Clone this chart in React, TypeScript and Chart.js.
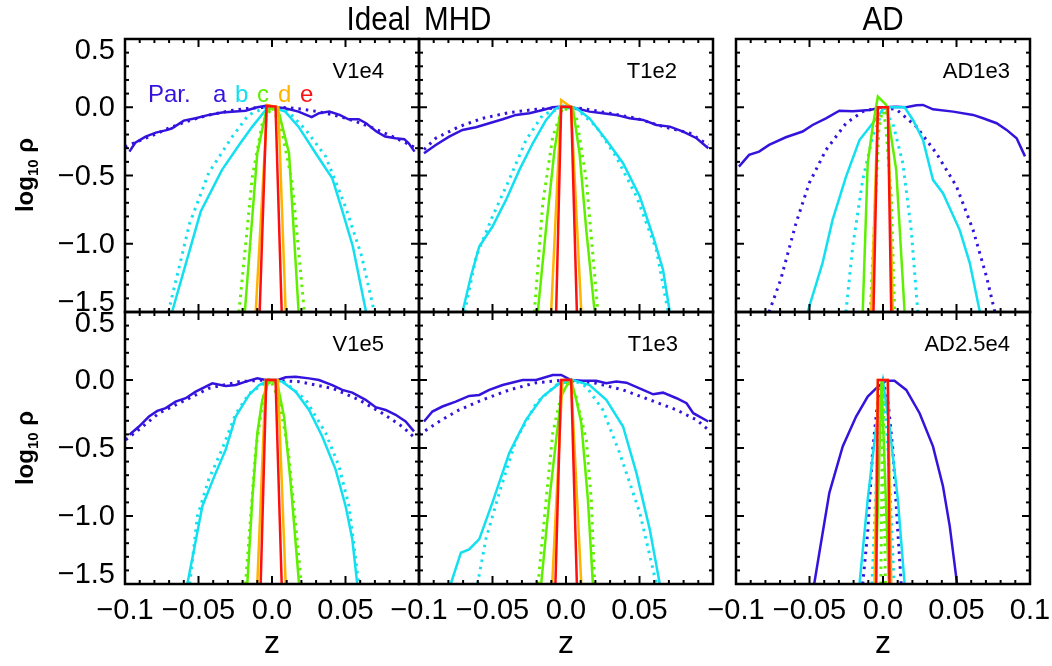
import React, { useEffect, useRef } from 'react';
import { Chart, registerables } from 'chart.js';

Chart.register(...registerables);

// ---------- Axis ticks ----------
const X_TICKS = [-0.1, -0.05, 0, 0.05, 0.1];
const X_TICK_LABELS = ['\u22120.1', '\u22120.05', '0.0', '0.05', '0.1'];
const Y_TICKS = [-1.5, -1.0, -0.5, 0.0, 0.5];
const Y_TICK_LABELS = ['\u22121.5', '\u22121.0', '\u22120.5', '0.0', '0.5'];
const LEGEND_LABELS = ['Par.', 'a', 'b', 'c', 'd', 'e'];

// ---------- V1e4 ----------
const V1E4_A = [[-0.097,-0.325],[-0.093,-0.26],[-0.086,-0.215],[-0.079,-0.186],[-0.071,-0.166],[-0.068,-0.154],[-0.06,-0.098],[-0.052,-0.081],[-0.043,-0.056],[-0.034,-0.039],[-0.025,-0.032],[-0.018,-0.025],[-0.01,0.0],[-0.004,0.01],[0.003,0.0],[0.009,-0.007],[0.018,-0.032],[0.027,-0.073],[0.032,-0.044],[0.039,-0.032],[0.046,-0.056],[0.052,-0.088],[0.059,-0.088],[0.064,-0.117],[0.071,-0.178],[0.077,-0.215],[0.084,-0.227],[0.09,-0.234],[0.093,-0.264],[0.097,-0.325]];
const V1E4_A_FIT = [[-0.1,-0.29],[-0.09,-0.245],[-0.08,-0.2],[-0.07,-0.152],[-0.06,-0.112],[-0.05,-0.078],[-0.04,-0.05],[-0.03,-0.028],[-0.02,-0.012],[-0.01,-0.003],[0.0,0.0],[0.01,-0.003],[0.02,-0.013],[0.03,-0.03],[0.04,-0.052],[0.05,-0.08],[0.06,-0.116],[0.07,-0.158],[0.08,-0.205],[0.09,-0.255],[0.1,-0.31]];
const V1E4_B = [[-0.068,-1.5],[-0.0485,-0.764],[-0.034,-0.459],[-0.0224,-0.276],[-0.0134,-0.142],[-0.0043,-0.02],[0.0,0.0],[0.009,-0.032],[0.018,-0.142],[0.0297,-0.337],[0.041,-0.52],[0.048,-0.764],[0.055,-1.02],[0.064,-1.5]];
const V1E4_B_FIT = [[-0.0705,-1.5],[-0.056,-0.85],[-0.043,-0.48],[-0.027,-0.215],[-0.016,-0.056],[-0.004,0.0],[0.009,-0.01],[0.023,-0.166],[0.0365,-0.36],[0.05,-0.73],[0.061,-1.09],[0.0696,-1.5]];
const V1E4_C = [[-0.0185,-1.5],[-0.01,-0.337],[-0.0043,-0.044],[0.0,0.0],[0.0048,-0.044],[0.0116,-0.337],[0.0181,-1.5]];
const V1E4_C_FIT = [[-0.0225,-1.5],[-0.0134,-0.51],[-0.0066,-0.117],[0.0,0.0],[0.006,-0.14],[0.0138,-0.556],[0.022,-1.5]];
const V1E4_D = [[-0.0111,-1.5],[-0.0032,0.017],[0.0043,0.0],[0.0093,-1.5]];
const V1E4_E = [[-0.0084,-1.5],[-0.0037,0.01],[0.0024,0.005],[0.0066,-1.5]];

// ---------- T1e2 ----------
const T1E2_A = [[-0.0966,-0.337],[-0.0886,-0.276],[-0.0795,-0.215],[-0.0704,-0.166],[-0.0613,-0.146],[-0.0522,-0.117],[-0.0431,-0.088],[-0.034,-0.056],[-0.0249,-0.044],[-0.0158,-0.02],[-0.009,0.0],[-0.002,0.005],[0.007,-0.007],[0.016,-0.032],[0.0251,-0.044],[0.034,-0.056],[0.0433,-0.081],[0.0524,-0.093],[0.0615,-0.13],[0.0706,-0.142],[0.0797,-0.178],[0.0888,-0.227],[0.0968,-0.3]];
const T1E2_A_FIT = [[-0.0966,-0.31],[-0.0886,-0.227],[-0.0727,-0.142],[-0.0568,-0.081],[-0.0386,-0.039],[-0.0203,-0.015],[0.0,0.0],[0.0114,-0.01],[0.0297,-0.044],[0.0479,-0.081],[0.066,-0.142],[0.0843,-0.19],[0.0968,-0.276]];
const T1E2_B = [[-0.0704,-1.5],[-0.0647,-1.24],[-0.059,-1.02],[-0.05,-0.874],[-0.0408,-0.679],[-0.0317,-0.459],[-0.0226,-0.264],[-0.0135,-0.093],[-0.0067,-0.007],[-0.002,0.01],[0.007,-0.007],[0.016,-0.081],[0.0274,-0.24],[0.0388,-0.41],[0.0502,-0.654],[0.0593,-0.947],[0.066,-1.19],[0.0706,-1.5]];
const T1E2_B_FIT = [[-0.069,-1.5],[-0.061,-1.09],[-0.05,-0.8],[-0.0386,-0.53],[-0.0272,-0.24],[-0.0158,-0.056],[-0.002,0.0],[0.007,-0.01],[0.0206,-0.142],[0.034,-0.36],[0.048,-0.654],[0.0615,-1.045],[0.0695,-1.5]];
const T1E2_C = [[-0.0192,-1.5],[-0.0135,-0.88],[-0.0078,-0.313],[-0.0033,0.0],[0.0046,0.0],[0.0092,-0.337],[0.0138,-0.9],[0.0195,-1.5]];
const T1E2_C_FIT = [[-0.0215,-1.5],[-0.0158,-0.703],[-0.009,-0.215],[-0.002,0.0],[0.007,-0.069],[0.0138,-0.53],[0.0217,-1.5]];
const T1E2_D = [[-0.0101,-1.5],[-0.0033,0.053],[0.0035,0.0],[0.0104,-1.5]];
const T1E2_E = [[-0.0067,-1.5],[-0.0033,0.004],[0.0035,0.004],[0.0074,-1.5]];

// ---------- AD1e3 ----------
const AD1E3_A = [[-0.098,-0.435],[-0.0911,-0.349],[-0.0843,-0.325],[-0.0775,-0.276],[-0.0661,-0.22],[-0.0547,-0.178],[-0.0479,-0.13],[-0.0388,-0.081],[-0.0297,-0.025],[-0.0206,-0.029],[-0.0092,-0.02],[0.0,0.0],[0.009,0.004],[0.0158,0.0],[0.0227,0.015],[0.0272,0.017],[0.034,-0.015],[0.0477,-0.032],[0.0613,-0.056],[0.0681,-0.081],[0.0773,-0.117],[0.0841,-0.166],[0.0909,-0.227],[0.0966,-0.36]];
const AD1E3_A_FIT = [[-0.0775,-1.5],[-0.0695,-1.26],[-0.0592,-0.85],[-0.0502,-0.556],[-0.0388,-0.313],[-0.0251,-0.117],[-0.0138,-0.032],[-0.002,0.0],[0.009,-0.015],[0.0227,-0.142],[0.0363,-0.337],[0.05,-0.58],[0.0613,-0.9],[0.0704,-1.24],[0.0761,-1.5]];
const AD1E3_B = [[-0.0513,-1.5],[-0.0411,-1.14],[-0.0343,-0.825],[-0.0252,-0.51],[-0.016,-0.24],[-0.007,-0.117],[0.0,-0.015],[0.0022,0.0],[0.0147,0.0],[0.0204,-0.093],[0.0272,-0.24],[0.034,-0.532],[0.0408,-0.63],[0.0522,-0.9],[0.059,-1.14],[0.0659,-1.5]];
const AD1E3_B_FIT = [[-0.0252,-1.5],[-0.0206,-1.02],[-0.0138,-0.532],[-0.007,-0.215],[0.0,-0.015],[0.0067,-0.117],[0.0135,-0.41],[0.0192,-0.9],[0.0237,-1.5]];
const AD1E3_C = [[-0.0138,-1.5],[-0.0104,-0.41],[-0.007,-0.142],[-0.0035,0.078],[0.0022,0.017],[0.009,-0.459],[0.0147,-1.5]];
const AD1E3_C_FIT = [[-0.0087,-1.5],[-0.005,-0.654],[-0.0027,-0.15],[0.0,0.0],[0.002,-0.15],[0.0056,-0.654],[0.0079,-1.5]];
const AD1E3_D = [[-0.008,-1.5],[-0.0035,0.0],[0.0033,0.0],[0.0067,-1.5]];
const AD1E3_E = [[-0.0065,-1.5],[-0.0035,0.0],[0.0033,0.0],[0.0056,-1.5]];

// ---------- V1e5 ----------
const V1E5_A = [[-0.097,-0.403],[-0.0905,-0.342],[-0.0837,-0.269],[-0.078,-0.227],[-0.0723,-0.207],[-0.0656,-0.159],[-0.0587,-0.134],[-0.0519,-0.086],[-0.0406,-0.024],[-0.0315,-0.044],[-0.0247,-0.037],[-0.0179,-0.012],[-0.01,0.012],[-0.0043,0.0],[0.004,0.0],[0.0093,0.02],[0.0161,0.024],[0.0252,0.012],[0.032,0.0],[0.041,-0.037],[0.0478,-0.073],[0.0546,-0.093],[0.0637,-0.146],[0.0705,-0.2],[0.0773,-0.22],[0.0841,-0.256],[0.0909,-0.305],[0.0966,-0.378]];
const V1E5_A_FIT = [[-0.0995,-0.44],[-0.0905,-0.364],[-0.0769,-0.244],[-0.061,-0.159],[-0.0429,-0.061],[-0.0224,-0.012],[-0.0043,0.0],[0.0184,-0.012],[0.041,-0.061],[0.0592,-0.146],[0.075,-0.244],[0.0886,-0.342],[0.0966,-0.42]];
const V1E5_B = [[-0.0576,-1.5],[-0.053,-1.245],[-0.0474,-0.928],[-0.0383,-0.683],[-0.0315,-0.512],[-0.0247,-0.269],[-0.0156,-0.11],[-0.0088,-0.037],[-0.0016,0.0],[0.007,-0.012],[0.0161,-0.086],[0.0252,-0.22],[0.0342,-0.415],[0.0433,-0.659],[0.0501,-0.928],[0.0546,-1.17],[0.058,-1.5]];
const V1E5_B_FIT = [[-0.056,-1.5],[-0.0507,-1.0],[-0.043,-0.73],[-0.034,-0.51],[-0.0247,-0.25],[-0.0156,-0.1],[-0.0016,0.0],[0.009,-0.02],[0.023,-0.146],[0.0365,-0.39],[0.0456,-0.634],[0.0524,-0.928],[0.059,-1.5]];
const V1E5_C = [[-0.0168,-1.5],[-0.0134,-0.878],[-0.01,-0.39],[-0.0066,-0.146],[-0.002,0.0],[0.0036,-0.024],[0.0082,-0.269],[0.0127,-0.756],[0.0184,-1.5]];
const V1E5_C_FIT = [[-0.018,-1.5],[-0.0145,-1.0],[-0.0111,-0.512],[-0.0055,-0.1],[-0.001,0.0],[0.0048,-0.146],[0.011,-0.512],[0.0155,-1.0],[0.02,-1.5]];
const V1E5_D = [[-0.01,-1.5],[-0.0043,0.0],[0.004,0.0],[0.0093,-1.5]];
const V1E5_E = [[-0.0077,-1.5],[-0.0039,0.0],[0.0024,0.0],[0.0066,-1.5]];

// ---------- T1e3 ----------
const T1E3_A = [[-0.0966,-0.305],[-0.0909,-0.232],[-0.0841,-0.195],[-0.075,-0.159],[-0.0659,-0.117],[-0.059,-0.11],[-0.0522,-0.073],[-0.0431,-0.037],[-0.0295,0.0],[-0.0203,0.0],[-0.009,0.037],[-0.0033,0.037],[0.0035,0.0],[0.0115,-0.005],[0.0206,-0.005],[0.0274,-0.024],[0.0342,-0.012],[0.0411,-0.02],[0.0524,-0.073],[0.0593,-0.105],[0.066,-0.093],[0.0752,-0.134],[0.082,-0.171],[0.0866,-0.244],[0.0968,-0.305]];
const T1E3_A_FIT = [[-0.1,-0.403],[-0.0932,-0.354],[-0.0841,-0.29],[-0.0727,-0.22],[-0.0568,-0.146],[-0.0386,-0.073],[-0.0203,-0.02],[0.0,0.0],[0.0206,-0.024],[0.0388,-0.073],[0.057,-0.146],[0.0752,-0.22],[0.0888,-0.293],[0.0968,-0.366]];
const T1E3_B = [[-0.0784,-1.5],[-0.0715,-1.27],[-0.0659,-1.245],[-0.059,-1.17],[-0.05,-0.9],[-0.0386,-0.537],[-0.0272,-0.293],[-0.0158,-0.122],[-0.0044,-0.024],[0.0048,0.0],[0.016,-0.037],[0.0274,-0.146],[0.0388,-0.342],[0.0479,-0.683],[0.057,-1.1],[0.0638,-1.5]];
const T1E3_B_FIT = [[-0.0602,-1.5],[-0.0545,-1.17],[-0.0454,-0.83],[-0.034,-0.44],[-0.0203,-0.171],[-0.0067,-0.037],[0.0048,0.0],[0.0138,-0.049],[0.0251,-0.22],[0.0365,-0.537],[0.0502,-0.976],[0.0615,-1.5]];
const T1E3_C = [[-0.0169,-1.5],[-0.0113,-0.878],[-0.0067,-0.44],[-0.0033,-0.122],[0.0,-0.05],[0.0035,0.0],[0.007,-0.146],[0.0104,-0.317],[0.0149,-0.878],[0.0183,-1.5]];
const T1E3_C_FIT = [[-0.019,-1.5],[-0.0135,-0.88],[-0.009,-0.39],[-0.0024,-0.073],[0.0012,0.0],[0.0068,-0.12],[0.0138,-0.44],[0.0172,-0.878],[0.0195,-1.5]];
const T1E3_D = [[-0.0094,-1.5],[-0.0024,0.0],[0.0035,0.0],[0.0104,-1.5]];
const T1E3_E = [[-0.0072,-1.5],[-0.0033,0.0],[0.0035,0.0],[0.0074,-1.5]];

// ---------- AD2.5e4 ----------
const AD25E4_A = [[-0.0468,-1.5],[-0.0433,-1.27],[-0.0365,-0.83],[-0.0274,-0.488],[-0.0183,-0.269],[-0.0104,-0.122],[-0.0035,-0.049],[0.0022,-0.005],[0.0078,-0.005],[0.0158,-0.073],[0.0249,-0.244],[0.034,-0.488],[0.0408,-0.781],[0.0454,-1.074],[0.0504,-1.5]];
const AD25E4_A_FIT = [[-0.0138,-1.5],[-0.0104,-1.12],[-0.007,-0.512],[-0.0035,-0.146],[0.0,-0.01],[0.0033,-0.146],[0.0067,-0.512],[0.0101,-1.12],[0.0124,-1.5]];
const AD25E4_B = [[-0.016,-1.5],[-0.0104,-0.878],[-0.0046,-0.342],[0.0,-0.01],[0.0044,-0.342],[0.0101,-0.878],[0.0147,-1.5]];
const AD25E4_B_FIT = [[-0.0075,-1.5],[-0.004,-0.6],[0.0,-0.01],[0.004,-0.6],[0.0075,-1.5]];
const AD25E4_C = [[-0.005,-1.5],[-0.001,0.0],[0.004,-1.5]];
const AD25E4_C_FIT = [[-0.0015,-1.5],[0.0,0.0],[0.0016,-1.5]];
const AD25E4_D = [[-0.0058,-1.5],[-0.0035,0.0],[0.0033,0.0],[0.0056,-1.5]];
const AD25E4_E = [[-0.0046,-1.5],[-0.0035,0.0],[0.0033,0.0],[0.0044,-1.5]];

// ---------- styling ----------
const BLUE = '#3414dc';
const CYAN = '#12e0f0';
const GREEN = '#5ef000';
const ORANGE = '#ffb400';
const RED = '#ff1010';
const LEGEND_COLORS = [BLUE, BLUE, CYAN, GREEN, ORANGE, RED];
const FONT = '"Liberation Sans", Arial, Helvetica, sans-serif';

const ML = 120, MR = 25, MT = 15, MB = 55;
const COL_LEFT = [125, 419, 736];
const COL_W = 294;
const ROW_TOP = [39, 312];
const ROW_H = [273, 272];

type Series = { data: number[][]; color: string; dotted: boolean };
type PanelCfg = {
  col: number; row: number; label: string; labelInset: number;
  series: Series[]; showY: boolean; showX: boolean; xLabelCount: number; legend: boolean;
};

const mk = (fa: number[][], fb: number[][], fc: number[][], a: number[][], b: number[][], c: number[][], d: number[][], e: number[][]): Series[] => [
  { data: fa, color: BLUE, dotted: true },
  { data: fb, color: CYAN, dotted: true },
  { data: fc, color: GREEN, dotted: true },
  { data: a, color: BLUE, dotted: false },
  { data: b, color: CYAN, dotted: false },
  { data: c, color: GREEN, dotted: false },
  { data: d, color: ORANGE, dotted: false },
  { data: e, color: RED, dotted: false },
];

const PANELS: PanelCfg[] = [
  { col: 0, row: 0, label: 'V1e4', labelInset: 35, showY: true, showX: false, xLabelCount: 4, legend: true,
    series: mk(V1E4_A_FIT, V1E4_B_FIT, V1E4_C_FIT, V1E4_A, V1E4_B, V1E4_C, V1E4_D, V1E4_E) },
  { col: 1, row: 0, label: 'T1e2', labelInset: 36, showY: false, showX: false, xLabelCount: 4, legend: false,
    series: mk(T1E2_A_FIT, T1E2_B_FIT, T1E2_C_FIT, T1E2_A, T1E2_B, T1E2_C, T1E2_D, T1E2_E) },
  { col: 2, row: 0, label: 'AD1e3', labelInset: 20, showY: false, showX: false, xLabelCount: 5, legend: false,
    series: mk(AD1E3_A_FIT, AD1E3_B_FIT, AD1E3_C_FIT, AD1E3_A, AD1E3_B, AD1E3_C, AD1E3_D, AD1E3_E) },
  { col: 0, row: 1, label: 'V1e5', labelInset: 35, showY: true, showX: true, xLabelCount: 4, legend: false,
    series: mk(V1E5_A_FIT, V1E5_B_FIT, V1E5_C_FIT, V1E5_A, V1E5_B, V1E5_C, V1E5_D, V1E5_E) },
  { col: 1, row: 1, label: 'T1e3', labelInset: 35, showY: false, showX: true, xLabelCount: 4, legend: false,
    series: mk(T1E3_A_FIT, T1E3_B_FIT, T1E3_C_FIT, T1E3_A, T1E3_B, T1E3_C, T1E3_D, T1E3_E) },
  { col: 2, row: 1, label: 'AD2.5e4', labelInset: 20, showY: false, showX: true, xLabelCount: 5, legend: false,
    series: mk(AD25E4_A_FIT, AD25E4_B_FIT, AD25E4_C_FIT, AD25E4_A, AD25E4_B, AD25E4_C, AD25E4_D, AD25E4_E) },
];

function makeFramePlugin(cfg: PanelCfg) {
  return {
    id: 'frame_' + cfg.label,
    afterDraw(chart: any) {
      const { ctx, chartArea: a, scales } = chart;
      const xs = scales.x, ys = scales.y;
      const line = (x1: number, y1: number, x2: number, y2: number) => {
        ctx.beginPath(); ctx.moveTo(x1, y1); ctx.lineTo(x2, y2); ctx.stroke();
      };
      ctx.save();
      ctx.strokeStyle = '#000';
      ctx.lineWidth = 2;
      ctx.setLineDash([]);
      for (let i = 0; i <= 20; i++) {
        const px = xs.getPixelForValue(-0.1 + i * 0.01);
        const len = i % 5 === 0 ? 8 : 4;
        line(px, a.bottom, px, a.bottom - len);
        line(px, a.top, px, a.top + len);
      }
      for (let i = 0; i <= 20; i++) {
        const py = ys.getPixelForValue(-1.5 + i * 0.1);
        const len = i % 5 === 0 ? 8 : 4;
        line(a.left, py, a.left + len, py);
        line(a.right, py, a.right - len, py);
      }
      ctx.lineWidth = 2.5;
      ctx.strokeRect(a.left, a.top, a.right - a.left, a.bottom - a.top);

      ctx.fillStyle = '#000';
      if (cfg.showY) {
        ctx.font = '29px ' + FONT;
        ctx.textAlign = 'right';
        ctx.textBaseline = 'middle';
        Y_TICKS.forEach((v, i) => {
          let py = ys.getPixelForValue(v);
          if (i === Y_TICKS.length - 1) py += 11;
          if (i === 0) py -= 10;
          ctx.fillText(Y_TICK_LABELS[i], a.left - 10, py + 1);
        });
      }
      if (cfg.showX) {
        ctx.font = '29px ' + FONT;
        ctx.textAlign = 'center';
        ctx.textBaseline = 'middle';
        for (let i = 0; i < cfg.xLabelCount; i++) {
          ctx.fillText(X_TICK_LABELS[i], xs.getPixelForValue(X_TICKS[i]), a.bottom + 27);
        }
      }
      ctx.font = '22px ' + FONT;
      ctx.textAlign = 'right';
      ctx.textBaseline = 'middle';
      ctx.fillText(cfg.label, a.right - cfg.labelInset, a.top + 33);

      if (cfg.legend) {
        ctx.font = '24px ' + FONT;
        ctx.textAlign = 'left';
        const offs = [23, 88, 110, 132, 153, 175];
        LEGEND_LABELS.forEach((t, i) => {
          ctx.fillStyle = LEGEND_COLORS[i];
          ctx.fillText(t, a.left + offs[i], a.top + 56);
        });
      }
      ctx.restore();
    },
  };
}

function Panel({ cfg }: { cfg: PanelCfg }) {
  const ref = useRef<HTMLCanvasElement>(null);
  const w = COL_W + ML + MR;
  const h = ROW_H[cfg.row] + MT + MB;
  useEffect(() => {
    const n = cfg.series.length;
    const chart = new Chart(ref.current as HTMLCanvasElement, {
      type: 'line',
      data: {
        datasets: cfg.series.map((s, i) => ({
          data: s.data.map(([x, y]) => ({ x, y })),
          borderColor: s.color,
          backgroundColor: s.color,
          borderWidth: s.dotted ? 3 : 2.5,
          borderDash: s.dotted ? [2.5, 5] : [],
          borderCapStyle: 'butt',
          pointRadius: 0,
          fill: false,
          tension: 0,
          clip: 0,
          order: n - i,
        })),
      },
      options: {
        responsive: false,
        animation: false,
        devicePixelRatio: 1,
        events: [],
        layout: { padding: { left: ML, right: MR, top: MT, bottom: MB } },
        plugins: { legend: { display: false }, tooltip: { enabled: false } },
        scales: {
          x: { type: 'linear', min: -0.1, max: 0.1, display: false },
          y: { type: 'linear', min: -1.5, max: 0.5, display: false },
        },
      },
      plugins: [makeFramePlugin(cfg)],
    } as any);
    return () => chart.destroy();
  }, []);
  return (
    <canvas
      ref={ref}
      width={w}
      height={h}
      style={{ position: 'absolute', left: COL_LEFT[cfg.col] - ML, top: ROW_TOP[cfg.row] - MT, width: w, height: h }}
    />
  );
}

export default function App() {
  const textBase: React.CSSProperties = { position: 'absolute', fontFamily: FONT, color: '#000', whiteSpace: 'nowrap', lineHeight: 1 };
  return (
    <div style={{ position: 'absolute', left: 0, top: 0, width: 1052, height: 666, background: '#fff', overflow: 'hidden' }}>
      {PANELS.map((p) => <Panel key={p.label} cfg={p} />)}
      <div style={{ ...textBase, left: 419, top: 18, fontSize: 34, wordSpacing: 6, transform: 'translate(-50%, -50%) scaleX(0.87)' }}>Ideal MHD</div>
      <div style={{ ...textBase, left: 883, top: 18, fontSize: 34, transform: 'translate(-50%, -50%) scaleX(0.87)' }}>AD</div>
      {[175, 448].map((cy) => (
        <div key={cy} style={{ ...textBase, left: 26, top: cy, fontSize: 24, fontWeight: 'bold', transform: 'translate(-50%, -50%) rotate(-90deg)' }}>
          log<span style={{ fontSize: 15, verticalAlign: -5 }}>10</span> ρ
        </div>
      ))}
      {[272, 566, 883].map((cx) => (
        <div key={cx} style={{ ...textBase, left: cx, top: 642, fontSize: 32, transform: 'translate(-50%, -50%)' }}>z</div>
      ))}
    </div>
  );
}
